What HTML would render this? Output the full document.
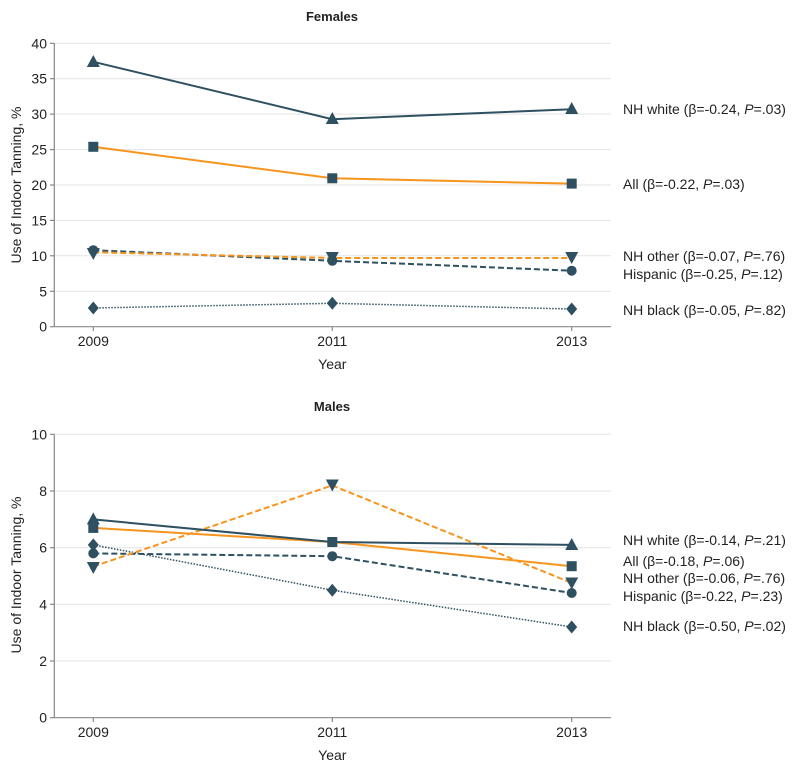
<!DOCTYPE html>
<html><head><meta charset="utf-8"><style>
html,body{margin:0;padding:0;background:#fff;}
svg{display:block;}
text{font-family:"Liberation Sans",sans-serif;fill:#222;}
</style></head><body>
<svg width="800" height="771" viewBox="0 0 800 771" xmlns="http://www.w3.org/2000/svg">
<defs>
<g id="tri"><path d="M0,-7 L6.5,5 L-6.5,5 Z" fill="#2e5061"/></g>
<g id="dtri"><path d="M0,7 L6.5,-5 L-6.5,-5 Z" fill="#2e5061"/></g>
<g id="sq"><rect x="-5" y="-5" width="10" height="10" fill="#2e5061"/></g>
<g id="cir"><circle r="5" fill="#2e5061"/></g>
<g id="dia"><path d="M0,-6.5 L5.5,0 L0,6.5 L-5.5,0 Z" fill="#2e5061"/></g>
</defs>

<!-- ===== FEMALES ===== -->
<text x="332" y="21" text-anchor="middle" font-size="13" font-weight="bold">Females</text>
<g stroke="#e3e3e3" stroke-width="1">
<line x1="54" y1="43.3" x2="611" y2="43.3"/>
<line x1="54" y1="78.7" x2="611" y2="78.7"/>
<line x1="54" y1="114.1" x2="611" y2="114.1"/>
<line x1="54" y1="149.6" x2="611" y2="149.6"/>
<line x1="54" y1="185" x2="611" y2="185"/>
<line x1="54" y1="220.4" x2="611" y2="220.4"/>
<line x1="54" y1="255.8" x2="611" y2="255.8"/>
<line x1="54" y1="291.3" x2="611" y2="291.3"/>
</g>
<g stroke="#888" stroke-width="1.2">
<line x1="54.3" y1="43" x2="54.3" y2="327"/>
<line x1="54" y1="326.7" x2="611" y2="326.7"/>
<line x1="50" y1="43.3" x2="54" y2="43.3"/>
<line x1="50" y1="78.7" x2="54" y2="78.7"/>
<line x1="50" y1="114.1" x2="54" y2="114.1"/>
<line x1="50" y1="149.6" x2="54" y2="149.6"/>
<line x1="50" y1="185" x2="54" y2="185"/>
<line x1="50" y1="220.4" x2="54" y2="220.4"/>
<line x1="50" y1="255.8" x2="54" y2="255.8"/>
<line x1="50" y1="291.3" x2="54" y2="291.3"/>
<line x1="50" y1="326.7" x2="54" y2="326.7"/>
<line x1="93.3" y1="327" x2="93.3" y2="331"/>
<line x1="332.3" y1="327" x2="332.3" y2="331"/>
<line x1="571.7" y1="327" x2="571.7" y2="331"/>
</g>
<g font-size="14" text-anchor="end">
<text x="47" y="48.3">40</text>
<text x="47" y="83.7">35</text>
<text x="47" y="119.1">30</text>
<text x="47" y="154.6">25</text>
<text x="47" y="190">20</text>
<text x="47" y="225.4">15</text>
<text x="47" y="260.8">10</text>
<text x="47" y="296.3">5</text>
<text x="47" y="331.7">0</text>
</g>
<g font-size="14" text-anchor="middle">
<text x="93.3" y="346">2009</text>
<text x="332.3" y="346">2011</text>
<text x="571.7" y="346">2013</text>
<text x="332.3" y="369">Year</text>
</g>
<text transform="translate(21,185) rotate(-90)" font-size="14" text-anchor="middle">Use of Indoor Tanning, %</text>

<!-- lines female -->
<polyline points="93.3,308 332.3,303.3 571.7,309" fill="none" stroke="#2e5061" stroke-width="1.5" stroke-dasharray="1.5,1.5"/>
<polyline points="93.3,250.2 332.3,260.8 571.7,270.7" fill="none" stroke="#2e5061" stroke-width="2" stroke-dasharray="6,3"/>
<polyline points="93.3,252.3 332.3,258 571.7,258" fill="none" stroke="#f7941d" stroke-width="2" stroke-dasharray="6,3"/>
<polyline points="93.3,146.8 332.3,178.3 571.7,183.6" fill="none" stroke="#f7941d" stroke-width="2"/>
<polyline points="93.3,61.8 332.3,119.2 571.7,109.2" fill="none" stroke="#2e5061" stroke-width="2"/>
<!-- markers female -->
<use href="#tri" x="93.3" y="62"/>
<use href="#tri" x="332.3" y="119"/>
<use href="#tri" x="571.7" y="109"/>
<use href="#sq" x="93.3" y="146.8"/>
<use href="#sq" x="332.3" y="178.3"/>
<use href="#sq" x="571.7" y="183.6"/>
<use href="#cir" x="93.3" y="250.2"/>
<use href="#cir" x="332.3" y="260.8"/>
<use href="#cir" x="571.7" y="270.7"/>
<use href="#dtri" x="93.3" y="253"/>
<use href="#dtri" x="332.3" y="257"/>
<use href="#dtri" x="571.7" y="257"/>
<use href="#dia" x="93.3" y="308"/>
<use href="#dia" x="332.3" y="303.3"/>
<use href="#dia" x="571.7" y="309"/>
<g font-size="14">
<text x="623" y="114">NH white (β=-0.24, <tspan font-style="italic">P</tspan>=.03)</text>
<text x="623" y="189">All (β=-0.22, <tspan font-style="italic">P</tspan>=.03)</text>
<text x="623" y="261">NH other (β=-0.07, <tspan font-style="italic">P</tspan>=.76)</text>
<text x="623" y="279">Hispanic (β=-0.25, <tspan font-style="italic">P</tspan>=.12)</text>
<text x="623" y="315">NH black (β=-0.05, <tspan font-style="italic">P</tspan>=.82)</text>
</g>

<!-- ===== MALES ===== -->
<text x="332" y="411" text-anchor="middle" font-size="13" font-weight="bold">Males</text>
<g stroke="#e3e3e3" stroke-width="1">
<line x1="54" y1="434.3" x2="611" y2="434.3"/>
<line x1="54" y1="491" x2="611" y2="491"/>
<line x1="54" y1="547.7" x2="611" y2="547.7"/>
<line x1="54" y1="604.3" x2="611" y2="604.3"/>
<line x1="54" y1="661" x2="611" y2="661"/>
</g>
<g stroke="#888" stroke-width="1.2">
<line x1="54.3" y1="434" x2="54.3" y2="718"/>
<line x1="54" y1="717.7" x2="611" y2="717.7"/>
<line x1="50" y1="434.3" x2="54" y2="434.3"/>
<line x1="50" y1="491" x2="54" y2="491"/>
<line x1="50" y1="547.7" x2="54" y2="547.7"/>
<line x1="50" y1="604.3" x2="54" y2="604.3"/>
<line x1="50" y1="661" x2="54" y2="661"/>
<line x1="50" y1="717.7" x2="54" y2="717.7"/>
<line x1="93.3" y1="718" x2="93.3" y2="722"/>
<line x1="332.3" y1="718" x2="332.3" y2="722"/>
<line x1="571.7" y1="718" x2="571.7" y2="722"/>
</g>
<g font-size="14" text-anchor="end">
<text x="47" y="439.3">10</text>
<text x="47" y="496">8</text>
<text x="47" y="552.7">6</text>
<text x="47" y="609.3">4</text>
<text x="47" y="666">2</text>
<text x="47" y="722.7">0</text>
</g>
<g font-size="14" text-anchor="middle">
<text x="93.3" y="737">2009</text>
<text x="332.3" y="737">2011</text>
<text x="571.7" y="737">2013</text>
<text x="332.3" y="760">Year</text>
</g>
<text transform="translate(21,575) rotate(-90)" font-size="14" text-anchor="middle">Use of Indoor Tanning, %</text>

<!-- lines male -->
<polyline points="93.3,544.9 332.3,590.2 571.7,627" fill="none" stroke="#2e5061" stroke-width="1.5" stroke-dasharray="1.5,1.5"/>
<polyline points="93.3,553.4 332.3,556.2 571.7,593" fill="none" stroke="#2e5061" stroke-width="2" stroke-dasharray="6,3"/>
<polyline points="93.3,566.5 332.3,485.4 571.7,583" fill="none" stroke="#f7941d" stroke-width="2" stroke-dasharray="6,3"/>
<polyline points="93.3,527.9 332.3,542 571.7,566.2" fill="none" stroke="#f7941d" stroke-width="2"/>
<polyline points="93.3,519.4 332.3,542 571.7,544.9" fill="none" stroke="#2e5061" stroke-width="2"/>
<!-- markers male -->
<use href="#tri" x="93.3" y="519.4"/>
<use href="#tri" x="571.7" y="545"/>
<use href="#sq" x="93.3" y="527.9"/>
<use href="#sq" x="332.3" y="542"/>
<use href="#sq" x="571.7" y="566.2"/>
<use href="#dtri" x="93.3" y="567"/>
<use href="#dtri" x="332.3" y="484.5"/>
<use href="#dtri" x="571.7" y="582.5"/>
<use href="#cir" x="93.3" y="553.4"/>
<use href="#cir" x="332.3" y="556.2"/>
<use href="#cir" x="571.7" y="593"/>
<use href="#dia" x="93.3" y="544.9"/>
<use href="#dia" x="332.3" y="590.2"/>
<use href="#dia" x="571.7" y="627"/>
<g font-size="14">
<text x="623" y="545">NH white (β=-0.14, <tspan font-style="italic">P</tspan>=.21)</text>
<text x="623" y="566">All (β=-0.18, <tspan font-style="italic">P</tspan>=.06)</text>
<text x="623" y="583">NH other (β=-0.06, <tspan font-style="italic">P</tspan>=.76)</text>
<text x="623" y="601">Hispanic (β=-0.22, <tspan font-style="italic">P</tspan>=.23)</text>
<text x="623" y="631">NH black (β=-0.50, <tspan font-style="italic">P</tspan>=.02)</text>
</g>
</svg>
</body></html>
